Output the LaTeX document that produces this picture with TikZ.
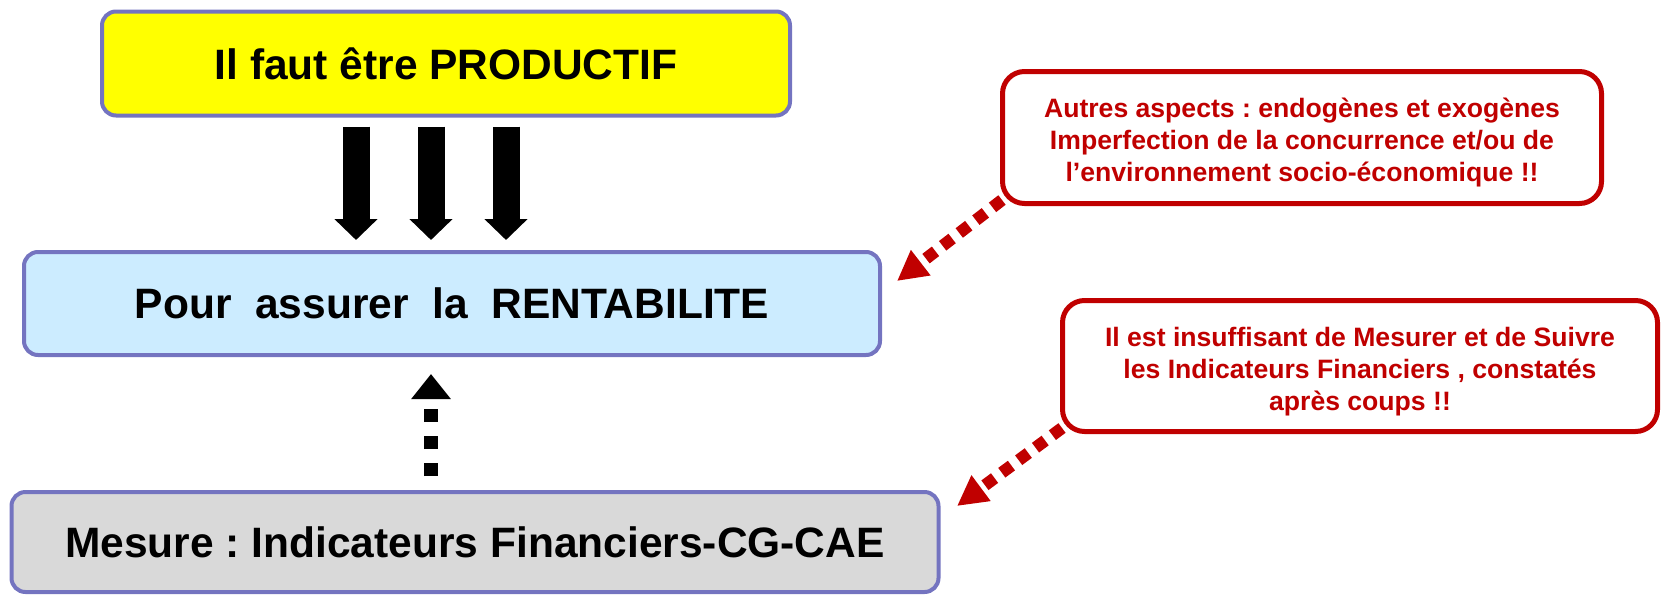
\documentclass[tikz,border=0pt]{standalone}
\usepackage{fontspec}
\setmainfont{Liberation Sans}
\usetikzlibrary{arrows.meta}
\frenchspacing
\definecolor{boxedge}{RGB}{116,116,192}
\definecolor{warnred}{RGB}{192,0,0}
\definecolor{skyfill}{RGB}{204,236,255}
\definecolor{greyfill}{RGB}{217,217,217}
\definecolor{sunfill}{RGB}{255,255,0}
% three centred lines, set a little below the middle of their box
\newcommand{\notetext}[1]{\raisebox{-12pt}[0pt][0pt]{\begin{tabular}{@{}c@{}}#1\end{tabular}}}
\begin{document}
\begin{tikzpicture}[x=1pt,y=1pt,
  mainbox/.style={draw=boxedge, line width=4pt, rounded corners=14pt,
    inner sep=0pt, align=center,
    font=\fontsize{42.5}{50}\selectfont\bfseries},
  notebox/.style={draw=warnred, line width=5pt, rounded corners=22pt, fill=white,
    inner sep=0pt, align=center, text=warnred,
    font=\fontsize{26.6}{32}\selectfont\bfseries},
  blockarrow/.style={line width=27pt, -{Triangle[length=21pt, width=42pt]}},
  dotup/.style={line width=14pt, dash pattern=on 13pt off 14pt,
    -{Triangle[length=25pt, width=38pt]}},
  dotred/.style={draw=warnred, line width=12pt, dash pattern=on 12pt off 9pt,
    -{Triangle[length=30pt, width=30pt, fill=warnred]}}]
  \useasboundingbox (0,0) rectangle (1661,-595);

  % main chain of boxes
  \node[mainbox, fill=sunfill, minimum width=688pt, minimum height=104pt]
    (prod) at (446,-63.5) {Il faut être PRODUCTIF};
  \node[mainbox, fill=skyfill, minimum width=856pt, minimum height=103pt]
    (rent) at (452,-303.5) {Pour\ \ assurer\ \ la\ \ RENTABILITE};
  \node[mainbox, fill=greyfill, minimum width=927pt, minimum height=100pt]
    (mesure) at (475,-542) {Mesure : Indicateurs Financiers-CG-CAE};

  % remarks
  \node[notebox, minimum width=599pt, minimum height=132pt]
    (autres) at (1302,-137.5) {\notetext{Autres aspects : endogènes et exogènes\\
      Imperfection de la concurrence et/ou de\\
      l’environnement socio-économique !!}};
  \node[notebox, minimum width=595pt, minimum height=131pt]
    (suivi) at (1360,-366) {\notetext{Il est insuffisant de Mesurer et de Suivre\\
      les Indicateurs Financiers , constatés\\
      après coups !!}};

  % three solid arrows from PRODUCTIF down to RENTABILITE
  \foreach \dx in {-90,-15,60}{
    \draw[blockarrow, shorten <=9pt, shorten >=10pt]
      ([xshift=\dx pt]prod.south) -- ([xshift=\dx pt]prod.south |- rent.north);
  }

  % dotted arrow from the measure up to RENTABILITE
  \draw[dotup, shorten <=14pt, shorten >=17pt]
    ([xshift=-44pt]mesure.north) -- ([xshift=-44pt]mesure.north |- rent.south);

  % red dotted arrows from the remarks
  \coordinate (t1) at (897,-281);
  \coordinate (t2) at (957,-506);
  \draw[dotred] (autres.south west) ++(2,6) coordinate (s1) (s1) -- (t1);
  \draw[dotred] (suivi.south west) ++(2,6) coordinate (s2) (s2) -- (t2);
\end{tikzpicture}
\end{document}
